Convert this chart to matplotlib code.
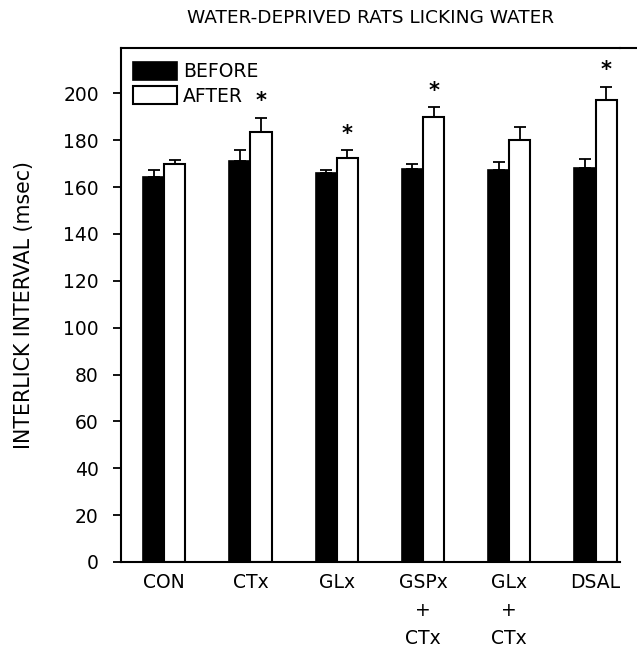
import matplotlib
matplotlib.use('Agg')
import matplotlib.pyplot as plt
import numpy as np

groups = ['CON', 'CTx', 'GLx', 'GSPx\n+\nCTx', 'GLx\n+\nCTx', 'DSAL']
before = [164.2, 171.0, 165.8, 167.5, 167.2, 168.0]
before_err = [3.0, 4.6, 1.3, 2.5, 3.6, 3.8]
after = [170.0, 183.5, 172.5, 189.8, 180.0, 197.3]
after_err = [1.5, 6.0, 3.1, 4.2, 5.5, 5.5]
significant = [False, True, True, True, False, True]

plt.rcParams['font.family'] = 'DejaVu Sans'

fig = plt.figure(figsize=(6.37, 6.55), dpi=100)
ax = fig.add_axes([0.19, 0.142, 0.783, 0.785])

x = np.arange(len(groups))
w = 0.245
ax.bar(x - w / 2, before, w, color='black', edgecolor='black', lw=1.2,
       label='BEFORE', zorder=2)
ax.bar(x + w / 2, after, w, color='white', edgecolor='black', lw=1.5,
       label='AFTER', zorder=2)
ax.errorbar(x - w / 2, before, yerr=[np.zeros(len(x)), before_err], fmt='none',
            ecolor='black', elinewidth=1.3, capsize=4, capthick=1.3, zorder=1)
ax.errorbar(x + w / 2, after, yerr=[np.zeros(len(x)), after_err], fmt='none',
            ecolor='black', elinewidth=1.3, capsize=4, capthick=1.3, zorder=1)

# stars over the significant AFTER bars
for i in range(len(x)):
    if significant[i]:
        ax.text(x[i] + w / 2, after[i] + after_err[i] + 7, '*', ha='center',
                va='center', fontsize=15, fontweight='bold')

ax.set_xlim(-0.5, 5.28)
ax.set_ylim(0, 219.4)
ax.set_yticks(np.arange(0, 201, 20))
ax.set_xticks(x)
ax.set_xticklabels(groups, fontsize=13.5, linespacing=1.6)
ax.tick_params(axis='x', length=0, pad=8)
ax.tick_params(axis='y', direction='out', length=6, width=1.3, pad=10, labelsize=13.5)

for s in ['left', 'bottom', 'top']:
    ax.spines[s].set_linewidth(1.5)
ax.spines['right'].set_visible(False)
ax.plot([1, 1.05], [1, 1], transform=ax.transAxes, color='black', lw=1.5,
        clip_on=False)

ax.set_ylabel('INTERLICK INTERVAL (msec)', fontsize=14.8)
ax.yaxis.set_label_coords(-0.174, 0.5)
ax.set_title('WATER-DEPRIVED RATS LICKING WATER', fontsize=13.3, pad=18)

ax.legend(loc='upper left', bbox_to_anchor=(0.024, 0.973), frameon=False,
          fontsize=13.5, handlelength=2.35, handleheight=1.12, labelspacing=0.27,
          handletextpad=0.3, borderpad=0, borderaxespad=0)

fig.savefig('out.png', dpi=100)
